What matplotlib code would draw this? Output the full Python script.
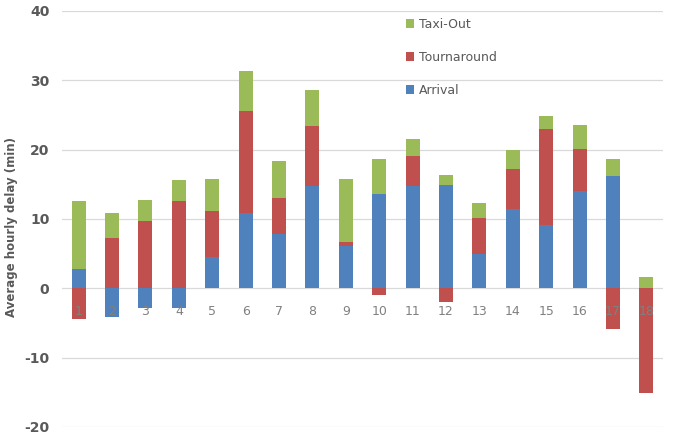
import matplotlib.pyplot as plt
import numpy as np

plt.rcParams["axes.unicode_minus"] = False

# hours 1..18
hours = [str(h) for h in range(1, 19)]
arrival = [2.8, -4.1, -2.8, -2.9, 4.5, 10.9, 7.9, 14.7, 6.1, 13.6, 14.7, 14.9, 4.9, 11.4, 9.1, 14.1, 16.2, 0.0]
tournaround = [-4.4, 7.2, 9.7, 12.6, 6.7, 14.7, 5.1, 8.7, 0.6, -0.9, 4.4, -2.0, 5.2, 5.8, 13.9, 6.0, -5.8, -15.1]
taxi_out = [9.8, 3.6, 3.0, 3.0, 4.6, 5.7, 5.3, 5.2, 9.0, 5.0, 2.5, 1.4, 2.2, 2.8, 1.9, 3.5, 2.4, 1.7]

series = [("Arrival", arrival, "#4F81BD"),
          ("Tournaround", tournaround, "#C0504D"),
          ("Taxi-Out", taxi_out, "#9BBB59")]

fig = plt.figure(figsize=(6.81, 4.37), dpi=100)
ax = fig.add_axes([62/681, 1 - 427/437, 601/681, 416/437])

x = np.arange(len(hours))
pos_bottom = np.zeros(len(hours))
neg_bottom = np.zeros(len(hours))
handles = []
for name, vals, col in series:
    v = np.array(vals)
    bottom = np.where(v >= 0, pos_bottom, neg_bottom)
    b = ax.bar(x, v, 0.42, bottom=bottom, color=col, label=name, zorder=3)
    handles.append(b)
    pos_bottom += np.where(v > 0, v, 0)
    neg_bottom += np.where(v < 0, v, 0)

ax.set_xlim(-0.5, len(hours) - 0.5)
ax.set_ylim(-20, 40)
ax.set_yticks(range(-20, 41, 10))
ax.yaxis.grid(True, color="#D9D9D9", linewidth=0.9, zorder=0)
ax.set_xticks([])
for s in ax.spines.values():
    s.set_visible(False)
ax.tick_params(axis="y", length=0, pad=9, labelsize=10, labelcolor="#595959")
for t in ax.get_yticklabels():
    t.set_fontweight("bold")

# category labels sit on the zero line like Excel
for xi, lab in zip(x, hours):
    ax.annotate(lab, (xi, 0), xytext=(0, -17), textcoords="offset points",
                ha="center", va="center", fontsize=9, color="#808080", zorder=4)

ax.set_ylabel("Average hourly delay (min)", fontsize=8.5, fontweight="bold",
              color="#595959")
ax.yaxis.set_label_coords(-0.073, 0.48)

ax.legend(handles[::-1], [s[0] for s in series][::-1], loc="upper left",
          bbox_to_anchor=(0.553, 1.01), frameon=False, fontsize=9,
          labelcolor="#595959", handlelength=0.7, handleheight=0.7,
          handletextpad=0.4, labelspacing=1.6)

fig.savefig("out.png", dpi=100)
